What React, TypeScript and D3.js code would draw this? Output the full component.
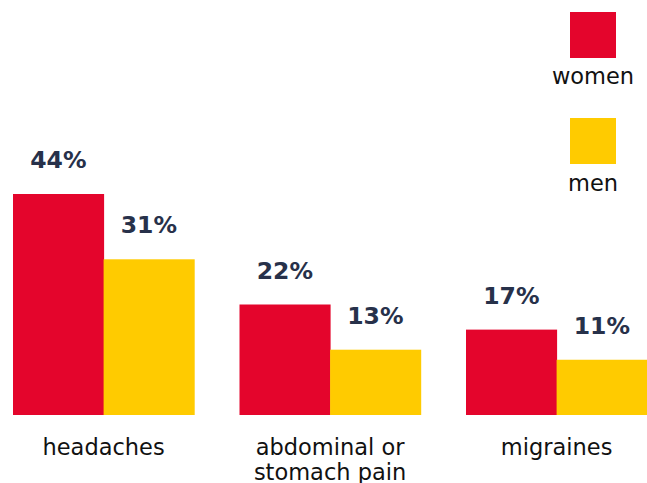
import React from "react";
import * as d3 from "d3";

const categoryLines = [["headaches"], ["abdominal or", "stomach pain"], ["migraines"]];
const seriesNames = ["women", "men"];
const women = [44, 22, 17];
const men = [31, 13, 11];
const colors = ["#e4052c", "#ffcb00"];

export default function App() {
  const W = 647, H = 483;
  const baseline = 415;
  const x0 = d3.scaleBand<number>().domain([0, 1, 2]).range([13, 647.2]).paddingInner(0.2).paddingOuter(0);
  const x1 = d3.scaleBand<number>().domain([0, 1]).range([0, x0.bandwidth()]);
  const y = d3.scaleLinear().domain([0, 44]).range([baseline, 194]);
  const series = [women, men];
  const font = "'DejaVu Sans', Verdana, sans-serif";
  return (
    <svg width={W} height={H} style={{ position: "absolute", left: 0, top: 0 }}>
      {series.map((vals, s) =>
        vals.map((v, i) => {
          const xx = x0(i)! + x1(s)!;
          return (
            <g key={`${s}-${i}`}>
              <rect x={xx} y={y(v)} width={x1.bandwidth() + 0.5} height={baseline - y(v)} fill={colors[s]} />
              <text
                x={xx + x1.bandwidth() / 2}
                y={y(v) - 26}
                textAnchor="middle"
                fontFamily={font}
                fontWeight={700}
                fontSize={23.5}
                fill="#27314a"
              >
                {v}%
              </text>
            </g>
          );
        })
      )}
      {categoryLines.map((lines, i) => (
        <text
          key={i}
          x={x0(i)! + x0.bandwidth() / 2}
          y={455}
          textAnchor="middle"
          fontFamily={font}
          fontSize={22.5}
          fill="#111"
        >
          {lines.map((l, j) => (
            <tspan key={j} x={x0(i)! + x0.bandwidth() / 2} dy={j === 0 ? 0 : 25}>
              {l}
            </tspan>
          ))}
        </text>
      ))}
      {seriesNames.map((n, s) => (
        <g key={n}>
          <rect x={570} y={12 + s * 106} width={46} height={46} fill={colors[s]} />
          <text
            x={593}
            y={84 + s * 107}
            textAnchor="middle"
            fontFamily={font}
            fontSize={22.5}
            fill="#111"
          >
            {n}
          </text>
        </g>
      ))}
    </svg>
  );
}
